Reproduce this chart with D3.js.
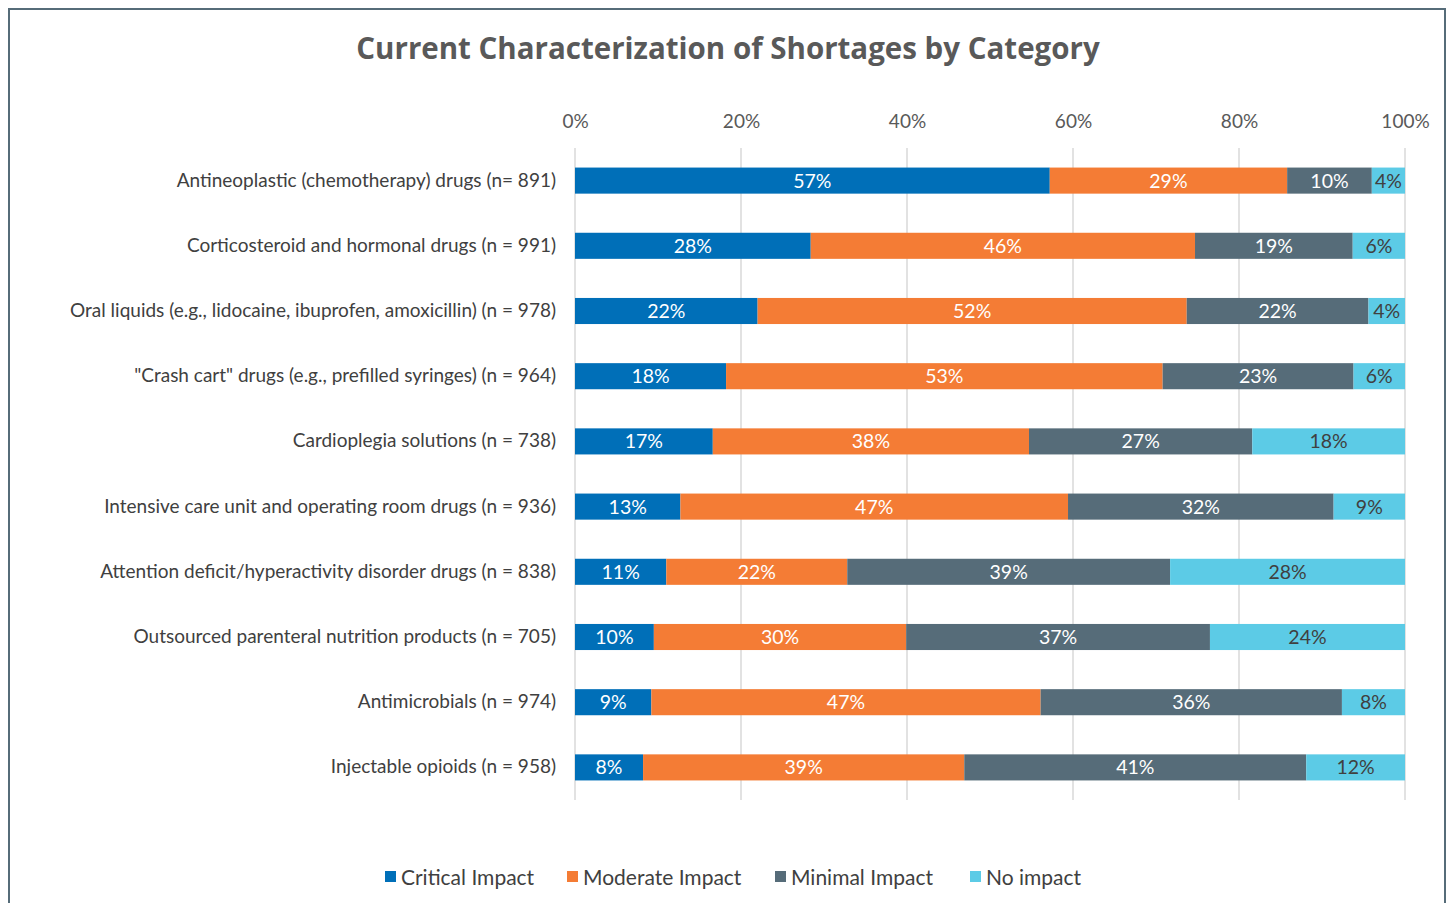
<!DOCTYPE html>
<html>
<head>
<meta charset="utf-8">
<script src="https://cdn.jsdelivr.net/npm/d3@7"></script>
<style>
  body { margin: 0; background: #fff; }
  svg { display: block; }
</style>
</head>
<body>
<div id="chart"></div>
<script>
// chart data
const categories = [
    "Antineoplastic (chemotherapy) drugs (n= 891)",
    "Corticosteroid and hormonal drugs (n = 991)",
    "Oral liquids (e.g., lidocaine, ibuprofen, amoxicillin) (n = 978)",
    "\"Crash cart\" drugs (e.g., prefilled syringes) (n = 964)",
    "Cardioplegia solutions (n = 738)",
    "Intensive care unit and operating room drugs (n = 936)",
    "Attention deficit/hyperactivity disorder drugs (n = 838)",
    "Outsourced parenteral nutrition products (n = 705)",
    "Antimicrobials (n = 974)",
    "Injectable opioids (n = 958)"
];
const seriesNames = ["Critical Impact", "Moderate Impact", "Minimal Impact", "No impact"];
const critical = [57.2, 28.4, 22.0, 18.2, 16.6, 12.7, 11.0, 9.5, 9.2, 8.2];
const moderate = [28.6, 46.3, 51.7, 52.6, 38.1, 46.7, 21.8, 30.4, 46.9, 38.7];
const minimal  = [10.2, 19.0, 21.9, 23.0, 26.9, 32.0, 38.9, 36.6, 36.3, 41.2];
const noImpact = [4.0, 6.3, 4.4, 6.2, 18.4, 8.6, 28.3, 23.5, 7.6, 11.9];
const tickValues = [0, 20, 40, 60, 80, 100];

const colors = ["#006fb8", "#f47c35", "#566c79", "#5ccbe6"];
const labelColors = ["#ffffff", "#ffffff", "#ffffff", "#404040"];

const width = 1450, height = 903;
const margin = {top: 148, right: 45, bottom: 103, left: 575};

const svg = d3.select("#chart").append("svg")
    .attr("width", width)
    .attr("height", height);

// frame
svg.append("rect")
    .attr("x", 9).attr("y", 9)
    .attr("width", 1436).attr("height", 910)
    .attr("fill", "none")
    .attr("stroke", "#566c79")
    .attr("stroke-width", 2);

// title
svg.append("text")
    .attr("x", 728).attr("y", 59)
    .attr("text-anchor", "middle")
    .style("font-family", "'Open Sans', sans-serif")
    .style("font-weight", "bold")
    .style("font-size", "29.5px")
    .style("fill", "#595959")
    .text("Current Characterization of Shortages by Category");

const x = d3.scaleLinear()
    .domain([0, 100])
    .range([margin.left, width - margin.right]);

const y = d3.scaleBand()
    .domain(categories)
    .range([margin.top, height - margin.bottom])
    .paddingInner(0.6)
    .paddingOuter(0.3);

// gridlines
svg.append("g")
    .selectAll("line")
    .data(tickValues)
    .join("line")
    .attr("x1", d => x(d)).attr("x2", d => x(d))
    .attr("y1", margin.top).attr("y2", height - margin.bottom)
    .attr("stroke", "#d9d9d9")
    .attr("stroke-width", 1.5);

// top axis labels
const xAxis = svg.append("g")
    .attr("transform", `translate(0, ${margin.top - 17})`)
    .call(d3.axisTop(x).tickValues(tickValues).tickFormat(d => d + "%").tickSize(0));
xAxis.select(".domain").remove();
xAxis.selectAll("text")
    .style("font-family", "Lato, sans-serif")
    .style("font-size", "19px")
    .style("fill", "#595959");

// category labels
const yAxis = svg.append("g")
    .attr("transform", `translate(${margin.left - 16}, 0)`)
    .call(d3.axisLeft(y).tickSize(0));
yAxis.select(".domain").remove();
yAxis.selectAll("text")
    .style("font-family", "Lato, sans-serif")
    .style("font-size", "19px")
    .style("fill", "#404040");

// stack the series
const rows = categories.map((c, i) => ({
    cat: c,
    v: [critical[i], moderate[i], minimal[i], noImpact[i]]
}));
const segs = [];
rows.forEach(r => {
    let acc = 0;
    r.v.forEach((v, k) => {
        segs.push({cat: r.cat, k: k, x0: acc, x1: acc + v, v: v});
        acc += v;
    });
});

svg.append("g")
    .selectAll("rect")
    .data(segs)
    .join("rect")
    .attr("x", d => x(d.x0))
    .attr("y", d => y(d.cat))
    .attr("width", d => x(d.x1) - x(d.x0))
    .attr("height", y.bandwidth())
    .attr("fill", d => colors[d.k]);

svg.append("g")
    .selectAll("text")
    .data(segs)
    .join("text")
    .attr("x", d => (x(d.x0) + x(d.x1)) / 2)
    .attr("y", d => y(d.cat) + y.bandwidth() / 2)
    .attr("dy", "0.36em")
    .attr("text-anchor", "middle")
    .style("font-family", "Lato, sans-serif")
    .style("font-size", "19.5px")
    .style("fill", d => labelColors[d.k])
    .text(d => Math.round(d.v) + "%");

// legend
const legendX = [385, 567, 775, 970];
const legend = svg.append("g")
    .selectAll("g")
    .data(seriesNames)
    .join("g")
    .attr("transform", (d, i) => `translate(${legendX[i]}, 877)`);
legend.append("rect")
    .attr("x", 0).attr("y", -6)
    .attr("width", 11).attr("height", 11)
    .attr("fill", (d, i) => colors[i]);
legend.append("text")
    .attr("x", 16).attr("y", 0)
    .attr("dy", "0.36em")
    .style("font-family", "Lato, sans-serif")
    .style("font-size", "21px")
    .style("fill", "#404040")
    .text(d => d);
</script>
</body>
</html>
